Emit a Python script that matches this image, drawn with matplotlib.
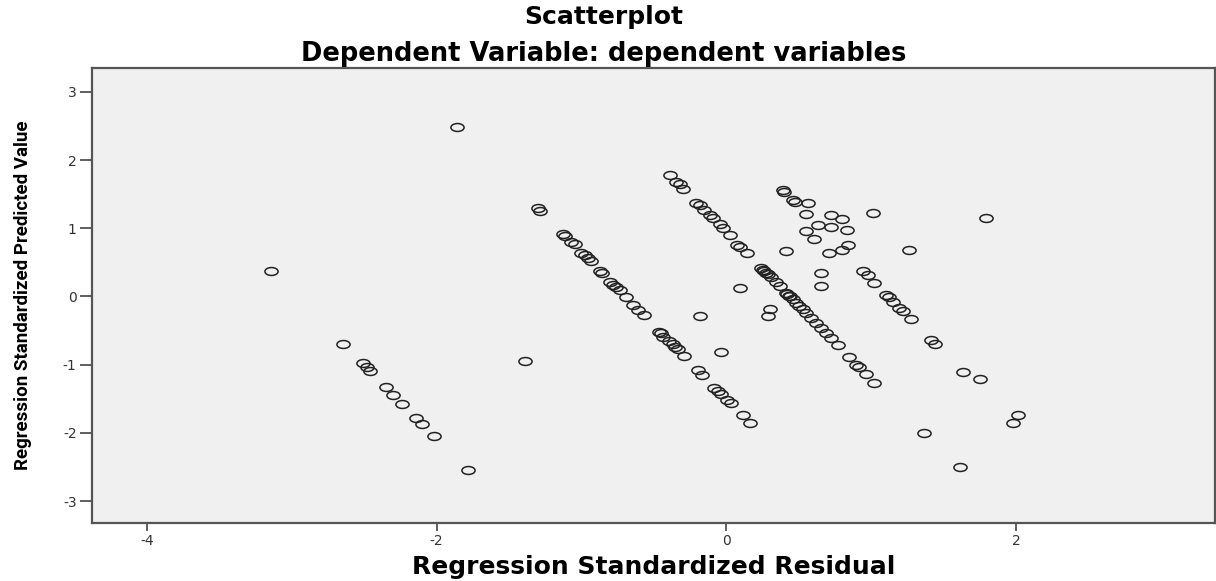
import matplotlib
matplotlib.use("Agg")
import matplotlib.pyplot as plt
from matplotlib.path import Path
from matplotlib.transforms import Affine2D

plt.rcParams["axes.unicode_minus"] = False

# residuals (x) and predicted values (y)
line1_x = [-2.648, -2.51, -2.48, -2.46, -2.35, -2.30, -2.24, -2.14, -2.10, -2.015, -1.786]
line1_y = [-0.69, -0.98, -1.04, -1.10, -1.33, -1.44, -1.57, -1.78, -1.87, -2.04, -2.54]

line2_x = [-1.30, -1.285, -1.129, -1.112, -1.071, -1.048, -1.002, -0.979, -0.956, -0.938,
           -0.876, -0.857, -0.807, -0.784, -0.761, -0.738, -0.692, -0.646, -0.61, -0.57,
           -0.467, -0.45, -0.44, -0.398, -0.37, -0.352, -0.336, -0.294, -0.198, -0.168,
           -0.083, -0.06, -0.037, 0.002, 0.032, 0.112, 0.159]
line2_y = [1.29, 1.26, 0.915, 0.89, 0.80, 0.77, 0.64, 0.61, 0.56, 0.52,
           0.373, 0.34, 0.217, 0.168, 0.143, 0.095, -0.003, -0.124, -0.198, -0.271,
           -0.515, -0.53, -0.588, -0.65, -0.70, -0.744, -0.774, -0.866, -1.076, -1.149,
           -1.335, -1.38, -1.43, -1.515, -1.56, -1.735, -1.85]

line3_x = [-0.393, -0.347, -0.324, -0.30, -0.209, -0.186, -0.152, -0.117, -0.094, -0.048,
           -0.025, 0.021, 0.071, 0.09, 0.14, 0.239, 0.25, 0.262, 0.274, 0.285, 0.308,
           0.343, 0.366, 0.412, 0.42, 0.434, 0.44, 0.457, 0.48, 0.503, 0.526, 0.55,
           0.584, 0.618, 0.653, 0.688, 0.722, 0.768, 0.848, 0.894, 0.917, 0.963, 1.02]
line3_y = [1.78, 1.68, 1.65, 1.58, 1.37, 1.34, 1.27, 1.19, 1.145, 1.057,
           0.998, 0.90, 0.754, 0.72, 0.632, 0.413, 0.39, 0.373, 0.34, 0.33, 0.29,
           0.217, 0.154, 0.047, 0.03, 0.007, 0.0, -0.04, -0.09, -0.14, -0.19, -0.237,
           -0.32, -0.39, -0.466, -0.54, -0.61, -0.71, -0.89, -1.003, -1.037, -1.135, -1.27]

cluster_x = [0.388, 0.40, 0.457, 0.476, 0.56, 0.55, 0.722, 0.796, 1.01, 0.63, 0.722, 0.83,
             0.55, 0.607, 0.84, 0.80, 0.706, 0.41, 1.257, 0.653, 0.653, 1.79]
cluster_y = [1.56, 1.53, 1.41, 1.39, 1.37, 1.21, 1.19, 1.135, 1.22, 1.05, 1.02, 0.98,
             0.96, 0.84, 0.76, 0.68, 0.64, 0.666, 0.676, 0.35, 0.15, 1.155]

line5_x = [0.945, 0.975, 1.02, 1.10, 1.124, 1.147, 1.19, 1.22, 1.274, 1.41, 1.44,
           1.63, 1.75, 1.98, 2.01]
line5_y = [0.378, 0.315, 0.20, 0.022, -0.01, -0.076, -0.17, -0.22, -0.334, -0.64, -0.70,
           -1.105, -1.21, -1.85, -1.74]

other_x = [-3.14, -1.857, -1.39, -0.186, -0.041, 0.094, 0.297, 0.288, 1.36, 1.61]
other_y = [0.38, 2.486, -0.945, -0.285, -0.808, 0.12, -0.19, -0.285, -2.00, -2.50]

xs = line1_x + line2_x + line3_x + cluster_x + line5_x + other_x
ys = line1_y + line2_y + line3_y + cluster_y + line5_y + other_y

x_ticks = [-4, -2, 0, 2]
y_ticks = [-3, -2, -1, 0, 1, 2, 3]

# flattened circle, the reference is stretched sideways
ellipse = Path.unit_circle().transformed(Affine2D().scale(1.0, 0.6))

fig = plt.figure(figsize=(12.16, 5.81), dpi=100)
ax = fig.add_axes([0.0755, 0.1, 0.9235, 0.783])
ax.set_facecolor("#f0f0f0")

ax.plot(xs, ys, linestyle="none", marker=ellipse, markersize=9.5,
        markerfacecolor="none", markeredgecolor="#222222", markeredgewidth=1.1)

ax.set_xlim(-4.38, 3.37)
ax.set_ylim(-3.32, 3.35)
ax.set_xticks(x_ticks)
ax.set_yticks(y_ticks)
ax.tick_params(axis="x", length=6, width=1.2, color="#444444", labelcolor="#333333",
               labelsize=10, pad=2)
ax.tick_params(axis="y", length=9, width=1.2, color="#444444", labelcolor="#333333",
               labelsize=10, pad=2)
for side in ["left", "bottom", "top", "right"]:
    ax.spines[side].set_color("#555555")
    ax.spines[side].set_linewidth(1.6)

fig.text(0.4967, 0.9587, "Scatterplot", ha="center", va="baseline",
         fontsize=18, fontweight="bold", family="DejaVu Sans")
fig.text(0.4967, 0.8955, "Dependent Variable: dependent variables", ha="center",
         va="baseline", fontsize=18.5, fontweight="bold", family="DejaVu Sans")
fig.text(0.5375, 0.012, "Regression Standardized Residual", ha="center", va="baseline",
         fontsize=18, fontweight="bold", family="DejaVu Sans")
fig.text(0.019, 0.4914, "Regression Standardized Predicted Value", ha="center",
         va="center", rotation=90, fontsize=13.5, fontweight="bold",
         family="Roboto")

fig.savefig("out.png", dpi=100)
